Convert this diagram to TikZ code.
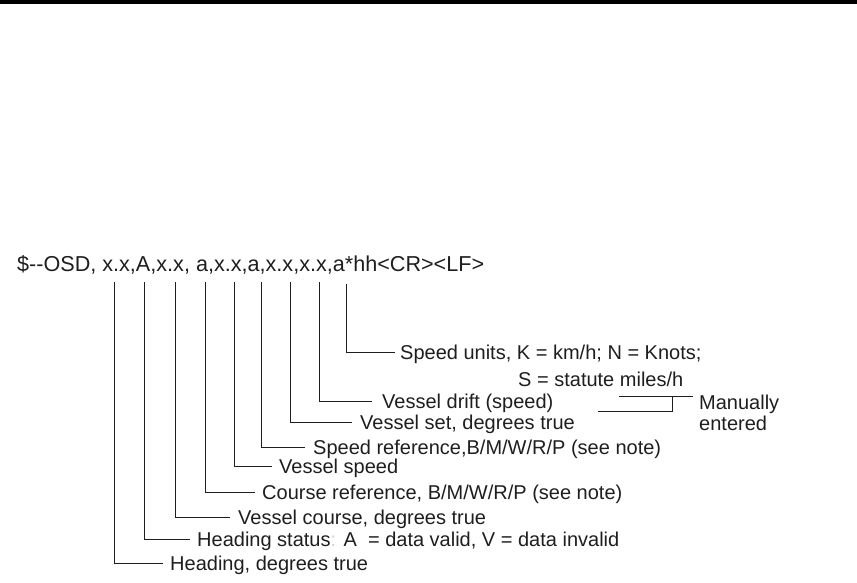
\documentclass[tikz,border=0pt]{standalone}
\usepackage{fontspec}
\setmainfont{Liberation Sans}
\definecolor{ink}{HTML}{1E1E1E}
\begin{document}
\begin{tikzpicture}[x=1pt,y=-1pt,
  lbl/.style={anchor=west,inner sep=0pt,text height=14pt,text depth=0pt,font=\fontsize{20}{24}\selectfont,text=ink},
  hdr/.style={anchor=base west,inner sep=0pt,font=\fontsize{21.6}{24}\selectfont,text=ink},
  conn/.style={draw=ink,line width=1pt}]
\useasboundingbox (0,0) rectangle (857,582);
\fill[black] (0,0) rectangle (857,3.5);
\node[hdr] (hdr) at (17,271) {\$-{}-OSD, x.x,A,x.x, a,x.x,a,x.x,x.x,a*hh<CR><LF>};
% field tops
\coordinate (t1) at (114.5,282);
\coordinate (t2) at (144,282);
\coordinate (t3) at (175,282);
\coordinate (t4) at (205,282);
\coordinate (t5) at (234,282);
\coordinate (t6) at (261,282);
\coordinate (t7) at (290,282);
\coordinate (t8) at (319,282);
\coordinate (t9) at (346,284);
% labels
\node[lbl] (l1) at (170,563) {Heading, degrees true};
\node[lbl] (l2) at (197,539) {Heading status{\color{gray!35}:} A\ \ = data valid, V = data invalid};
\node[lbl] (l3) at (238,517) {Vessel course, degrees true};
\node[lbl] (l4) at (262,492) {Course reference, B/M/W/R/P (see note)};
\node[lbl] (l5) at (279,466) {Vessel speed};
\node[lbl] (l6) at (313,447) {Speed reference,B/M/W/R/P (see note)};
\node[lbl] (l7) at (360,422) {Vessel set, degrees true};
\node[lbl] (l8) at (382,401) {Vessel drift (speed)};
\node[lbl] (l9) at (400,352) {Speed units, K = km/h; N = Knots;};
\node[lbl] (l9b) at (518,379) {S = statute miles/h};
\node[lbl] (m1) at (699,402) {Manually};
\node[lbl] (m2) at (699,423) {entered};
% ends of horizontal leaders
\coordinate (e1) at (163,563);
\coordinate (e2) at (190,539);
\coordinate (e3) at (230,517);
\coordinate (e4) at (255,492);
\coordinate (e5) at (272,466);
\coordinate (e6) at (305,447);
\coordinate (e7) at (352,422);
\coordinate (e8) at (372,401);
\coordinate (e9) at (395,352);
\draw[conn] (t1) |- (e1);
\draw[conn] (t2) |- (e2);
\draw[conn] (t3) |- (e3);
\draw[conn] (t4) |- (e4);
\draw[conn] (t5) |- (e5);
\draw[conn] (t6) |- (e6);
\draw[conn] (t7) |- (e7);
\draw[conn] (t8) |- (e8);
\draw[conn] (t9) |- (e9);
% manually entered bracket
\coordinate (b1) at (619,396);
\coordinate (b2) at (693,396);
\coordinate (b3) at (598,411);
\coordinate (b4) at (672,411);
\draw[conn] (b1) -- (b2);
\draw[conn] (b3) -- (b4) -- (b4 |- b1);
\end{tikzpicture}
\end{document}
